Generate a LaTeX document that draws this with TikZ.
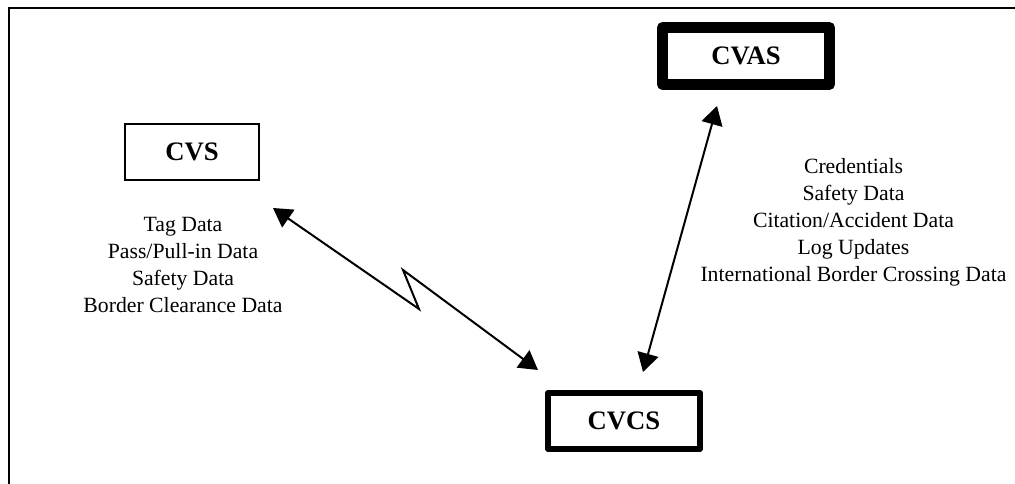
\documentclass[tikz,border=0pt]{standalone}
\usepackage{fontspec}
\setmainfont{Liberation Serif}
\usetikzlibrary{arrows.meta}

\tikzset{
  framestyle/.style={line width=1.5pt},
  thinbox/.style={draw, line width=1.5pt, inner sep=0pt,
    font=\fontsize{20}{24}\selectfont\bfseries},
  thickbox/.style={thinbox, line join=round},
  datalist/.style={align=center, inner sep=0pt,
    font=\fontsize{16.3}{20.25}\selectfont},
  link/.style={line width=1.5pt, line join=miter,
    {Triangle[length=14pt,width=16pt]}-{Triangle[length=14pt,width=16pt]}}
}

\begin{document}
\begin{tikzpicture}[x=0.75pt, y=-0.75pt]
  \useasboundingbox (0,0) rectangle (1015,484);

  % open frame along the top and left
  \draw[framestyle] (9,484) -- (9,8) -- (1015,8);

  % systems
  \node[thinbox, minimum width=100.5pt, minimum height=42pt] (cvs) at (192,152) {CVS};
  \node[thickbox, line width=4.5pt, minimum width=114pt, minimum height=42pt] (cvcs) at (624,421) {CVCS};
  \node[thickbox, line width=8.25pt, minimum width=125.25pt, minimum height=42.75pt] (cvas) at (746,56) {CVAS};

  % exchanged data
  \node[datalist] (cvsdata) at (183,265)
    {Tag Data\\Pass/Pull-in Data\\Safety Data\\Border Clearance Data};
  \node[datalist] (cvasdata) at (853.5,222.5)
    {Credentials\\Safety Data\\Citation/Accident Data\\Log Updates\\International Border Crossing Data};

  % wireless link CVS <-> CVCS, with lightning break
  \coordinate (w1) at (273,208);
  \coordinate (w2) at (419,309);
  \coordinate (w3) at (403,270);
  \coordinate (w4) at (538,370);
  \draw[link] (w1) -- (w2) -- (w3) -- (w4);

  % wired link CVAS <-> CVCS
  \coordinate (v1) at (717,106);
  \coordinate (v2) at (643,372);
  \draw[link] (v1) -- (v2);
\end{tikzpicture}
\end{document}
